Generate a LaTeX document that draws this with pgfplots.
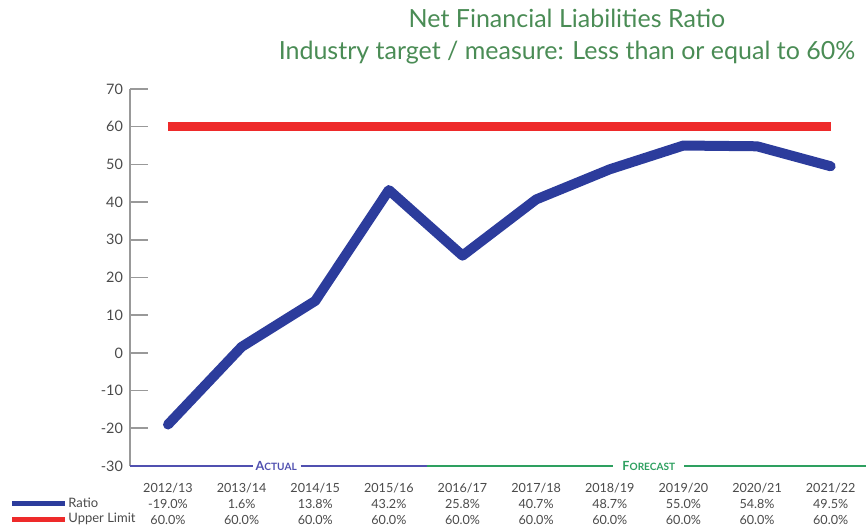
\documentclass[border=0pt]{standalone}
\usepackage{fontspec}
\setmainfont{Lato}
\usepackage{pgfplots}
\pgfplotsset{compat=1.18}
\definecolor{ratioblue}{HTML}{2C3C9C}
\definecolor{limitred}{HTML}{EE2A2A}
\definecolor{titlegreen}{HTML}{4A8C55}
\definecolor{actblue}{HTML}{5050B0}
\definecolor{fcgreen}{HTML}{2EA060}
\definecolor{txtgray}{HTML}{4A4A4A}
\begin{document}
\begin{tikzpicture}[x=1pt,y=1pt]
\useasboundingbox (0,0) rectangle (433,265);
\begin{axis}[
  at={(65pt,32pt)}, anchor=south west,
  scale only axis, width=368pt, height=188.5pt,
  xmin=-0.516, xmax=9.48, ymin=-30, ymax=70,
  axis lines*=left,
  x axis line style={draw=none},
  y axis line style={draw=gray!80, line width=0.8pt},
  ytick={-30,-20,...,70},
  tick align=inside,
  ytick style={draw=gray!80, line width=0.8pt},
  major tick length=9pt,
  xtick={0,...,9},
  xtick style={draw=none},
  xticklabels={{2012/13\\-19.0\%\\60.0\%},{2013/14\\1.6\%\\60.0\%},{2014/15\\13.8\%\\60.0\%},{2015/16\\43.2\%\\60.0\%},{2016/17\\25.8\%\\60.0\%},{2017/18\\40.7\%\\60.0\%},{2018/19\\48.7\%\\60.0\%},{2019/20\\55.0\%\\60.0\%},{2020/21\\54.8\%\\60.0\%},{2021/22\\49.5\%\\60.0\%}},
  xticklabel style={align=center, font=\fontsize{6.3}{8}\selectfont, text=txtgray, yshift=-5pt},
  yticklabel style={font=\fontsize{7.2}{8}\selectfont, text=txtgray},
  /pgf/number format/assume math mode=true,
  clip=false,
]
\addplot[limitred, line width=4.5pt] coordinates {(0,60)(1,60)(2,60)(3,60)(4,60)(5,60)(6,60)(7,60)(8,60)(9,60)};
\addplot[ratioblue, line width=5pt, line join=round, line cap=round] coordinates {(0,-19.0)(1,1.6)(2,13.8)(3,43.2)(4,25.8)(5,40.7)(6,48.7)(7,55.0)(8,54.8)(9,49.5)};
\draw[actblue, line width=0.9pt] (axis cs:-0.516,-30) -- (axis cs:1.15,-30);
\draw[actblue, line width=0.9pt] (axis cs:1.80,-30) -- (axis cs:3.52,-30);
\node[actblue, font=\fontsize{6.3}{7}\selectfont\bfseries] at (axis cs:1.47,-30) {A\scalebox{0.8}{CTUAL}};
\draw[fcgreen, line width=0.9pt] (axis cs:3.52,-30) -- (axis cs:6.05,-30);
\draw[fcgreen, line width=0.9pt] (axis cs:7.01,-30) -- (axis cs:9.48,-30);
\node[fcgreen, font=\fontsize{6.3}{7}\selectfont\bfseries] at (axis cs:6.53,-30) {F\scalebox{0.8}{ORECAST}};
\end{axis}
\draw[ratioblue, line width=2.5pt] (6,13.5) -- (32.5,13.5);
\node[anchor=west, font=\fontsize{6.5}{8}\selectfont, text=txtgray, inner sep=0pt] at (34,13.5) {Ratio};
\draw[limitred, line width=2.5pt] (6,5.5) -- (32.5,5.5);
\node[anchor=west, font=\fontsize{6.5}{8}\selectfont, text=txtgray, inner sep=0pt] at (34,5.5) {Upper Limit};
\node[titlegreen, font=\fontsize{12.5}{16}\selectfont, align=center, anchor=north] at (283.5,264) {Net Financial Liabilities Ratio\\Industry target / measure: Less than or equal to 60\%};
\end{tikzpicture}
\end{document}
